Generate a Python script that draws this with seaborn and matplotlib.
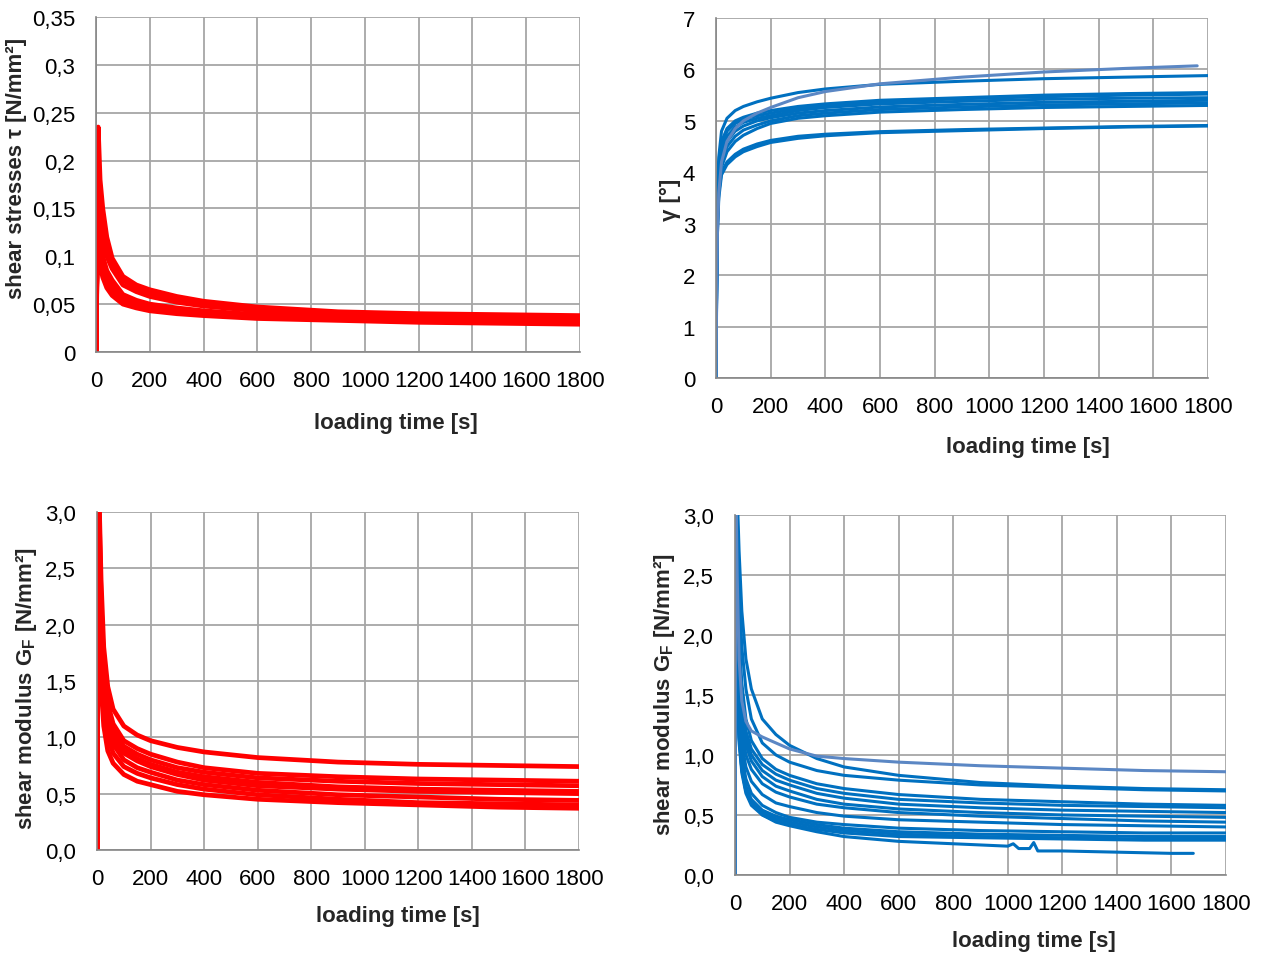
import numpy as np
import pandas as pd
import matplotlib
matplotlib.use("Agg")
import matplotlib.pyplot as plt
from matplotlib.ticker import FuncFormatter, MultipleLocator
import seaborn as sns

# ---------------- data ----------------
t_tau = [0, 3, 8, 15, 25, 40, 60, 100, 150, 200, 300, 400, 600, 900, 1200, 1500, 1800]
tau_1 = [0, 0.120, 0.235, 0.180, 0.150, 0.120, 0.098, 0.079, 0.070, 0.065, 0.058, 0.053, 0.047, 0.042, 0.040, 0.039, 0.038]
tau_2 = [0, 0.100, 0.160, 0.160, 0.135, 0.110, 0.093, 0.075, 0.067, 0.062, 0.055, 0.051, 0.045, 0.041, 0.039, 0.038, 0.037]
tau_3 = [0, 0.090, 0.140, 0.145, 0.120, 0.100, 0.087, 0.070, 0.063, 0.058, 0.052, 0.048, 0.043, 0.040, 0.038, 0.037, 0.036]
tau_4 = [0, 0.090, 0.130, 0.120, 0.100, 0.085, 0.075, 0.060, 0.054, 0.050, 0.046, 0.043, 0.039, 0.036, 0.035, 0.034, 0.033]
tau_5 = [0, 0.080, 0.120, 0.110, 0.092, 0.078, 0.068, 0.056, 0.051, 0.048, 0.044, 0.041, 0.038, 0.035, 0.034, 0.033, 0.032]
tau_6 = [0, 0.080, 0.110, 0.100, 0.085, 0.072, 0.063, 0.053, 0.048, 0.046, 0.042, 0.040, 0.036, 0.034, 0.033, 0.032, 0.031]
tau_7 = [0, 0.070, 0.100, 0.090, 0.078, 0.067, 0.059, 0.050, 0.046, 0.043, 0.040, 0.038, 0.035, 0.033, 0.031, 0.030, 0.029]
tau_8 = [0, 0.090, 0.125, 0.115, 0.095, 0.081, 0.071, 0.058, 0.052, 0.049, 0.045, 0.042, 0.038, 0.036, 0.034, 0.033, 0.032]

t_gam = [0, 2, 5, 10, 20, 40, 70, 100, 150, 200, 300, 400, 600, 900, 1200, 1500, 1800]
gam_1 = [0, 2.0, 3.5, 4.3, 4.80, 5.05, 5.20, 5.28, 5.37, 5.44, 5.55, 5.62, 5.71, 5.77, 5.82, 5.85, 5.88]
gam_2 = [0, 2.0, 3.4, 4.2, 4.60, 4.85, 5.00, 5.07, 5.15, 5.20, 5.28, 5.33, 5.40, 5.45, 5.50, 5.53, 5.55]
gam_3 = [0, 1.9, 3.3, 4.1, 4.50, 4.80, 4.95, 5.03, 5.10, 5.15, 5.24, 5.30, 5.37, 5.43, 5.47, 5.50, 5.52]
gam_4 = [0, 1.9, 3.2, 4.0, 4.40, 4.70, 4.88, 4.97, 5.05, 5.10, 5.20, 5.26, 5.33, 5.38, 5.42, 5.44, 5.45]
gam_5 = [0, 1.8, 3.1, 3.9, 4.30, 4.60, 4.80, 4.90, 5.00, 5.06, 5.15, 5.20, 5.27, 5.32, 5.36, 5.38, 5.40]
gam_6 = [0, 1.8, 3.0, 3.8, 4.20, 4.50, 4.70, 4.82, 4.92, 5.00, 5.10, 5.15, 5.22, 5.27, 5.31, 5.33, 5.35]
gam_7 = [0, 1.7, 3.0, 3.7, 4.10, 4.40, 4.60, 4.72, 4.85, 4.95, 5.05, 5.10, 5.17, 5.22, 5.26, 5.28, 5.30]
gam_8 = [0, 1.7, 2.9, 3.6, 4.00, 4.20, 4.35, 4.45, 4.55, 4.62, 4.70, 4.74, 4.79, 4.83, 4.86, 4.89, 4.91]
gam_9 = [0, 1.6, 2.8, 3.5, 3.95, 4.15, 4.30, 4.40, 4.50, 4.58, 4.66, 4.71, 4.77, 4.81, 4.85, 4.88, 4.90]
t_gam_light = [0, 2, 5, 10, 20, 40, 70, 100, 150, 200, 300, 400, 600, 900, 1200, 1500, 1760]
gam_light = [0, 1.5, 2.8, 3.6, 4.20, 4.60, 4.85, 5.00, 5.15, 5.26, 5.45, 5.57, 5.72, 5.85, 5.95, 6.02, 6.07]

t_gr = [0, 3, 8, 15, 25, 40, 60, 100, 150, 200, 300, 400, 600, 900, 1200, 1500, 1800]
gr_1 = [0, 3.3, 3.1, 2.40, 1.80, 1.45, 1.25, 1.10, 1.02, 0.97, 0.91, 0.87, 0.82, 0.78, 0.76, 0.75, 0.74]
gr_2 = [0, 3.3, 3.0, 2.20, 1.65, 1.30, 1.12, 0.97, 0.90, 0.85, 0.78, 0.73, 0.68, 0.65, 0.63, 0.62, 0.61]
gr_3 = [0, 3.3, 2.9, 2.10, 1.55, 1.25, 1.07, 0.92, 0.85, 0.80, 0.73, 0.69, 0.64, 0.61, 0.59, 0.58, 0.57]
gr_4 = [0, 3.2, 2.7, 1.95, 1.45, 1.17, 1.00, 0.86, 0.79, 0.74, 0.67, 0.62, 0.57, 0.54, 0.52, 0.51, 0.50]
gr_5 = [0, 3.2, 2.6, 1.85, 1.38, 1.10, 0.94, 0.80, 0.73, 0.69, 0.62, 0.58, 0.53, 0.49, 0.47, 0.45, 0.44]
gr_6 = [0, 3.1, 2.4, 1.70, 1.25, 1.00, 0.86, 0.74, 0.68, 0.64, 0.58, 0.54, 0.49, 0.45, 0.42, 0.41, 0.40]
gr_7 = [0, 3.0, 2.1, 1.45, 1.10, 0.88, 0.77, 0.67, 0.61, 0.58, 0.52, 0.49, 0.45, 0.42, 0.40, 0.38, 0.37]
gr_8 = [0, 3.2, 2.8, 2.00, 1.50, 1.20, 1.03, 0.88, 0.81, 0.76, 0.69, 0.65, 0.60, 0.56, 0.54, 0.53, 0.52]

t_gb = [0, 3, 8, 15, 25, 40, 60, 100, 150, 200, 300, 400, 600, 900, 1200, 1500, 1800]
gb_light = [0, 3.3, 2.5, 1.80, 1.45, 1.28, 1.20, 1.15, 1.10, 1.05, 0.99, 0.97, 0.94, 0.91, 0.89, 0.87, 0.86]
gb_1 = [0, 3.3, 3.2, 2.70, 2.20, 1.80, 1.55, 1.30, 1.17, 1.08, 0.97, 0.90, 0.83, 0.77, 0.74, 0.72, 0.71]
gb_2 = [0, 3.3, 3.0, 2.40, 1.90, 1.55, 1.30, 1.10, 1.00, 0.94, 0.87, 0.83, 0.79, 0.75, 0.73, 0.71, 0.70]
gb_3 = [0, 3.3, 2.7, 2.00, 1.60, 1.30, 1.12, 0.97, 0.88, 0.83, 0.76, 0.72, 0.67, 0.63, 0.61, 0.59, 0.58]
gb_4 = [0, 3.2, 2.5, 1.80, 1.45, 1.20, 1.05, 0.92, 0.84, 0.79, 0.72, 0.68, 0.63, 0.60, 0.58, 0.57, 0.56]
gb_5 = [0, 3.2, 2.4, 1.70, 1.38, 1.14, 1.00, 0.87, 0.79, 0.75, 0.68, 0.64, 0.59, 0.56, 0.54, 0.53, 0.52]
gb_6 = [0, 3.1, 2.3, 1.60, 1.30, 1.08, 0.95, 0.82, 0.74, 0.70, 0.63, 0.59, 0.55, 0.52, 0.50, 0.49, 0.48]
gb_7 = [0, 3.0, 2.2, 1.55, 1.22, 1.00, 0.88, 0.76, 0.69, 0.65, 0.59, 0.56, 0.52, 0.49, 0.47, 0.45, 0.44]
gb_8 = [0, 3.0, 2.0, 1.40, 1.10, 0.90, 0.78, 0.67, 0.60, 0.57, 0.52, 0.49, 0.46, 0.44, 0.42, 0.41, 0.40]
gb_9 = [0, 2.9, 1.9, 1.30, 1.00, 0.80, 0.68, 0.58, 0.52, 0.48, 0.44, 0.42, 0.39, 0.37, 0.36, 0.35, 0.35]
gb_10 = [0, 2.8, 1.8, 1.20, 0.92, 0.74, 0.63, 0.54, 0.49, 0.46, 0.42, 0.39, 0.36, 0.34, 0.33, 0.32, 0.32]
gb_11 = [0, 2.7, 1.7, 1.15, 0.88, 0.70, 0.60, 0.52, 0.47, 0.44, 0.40, 0.37, 0.34, 0.32, 0.31, 0.30, 0.30]
gb_12 = [0, 2.6, 1.6, 1.10, 0.85, 0.68, 0.58, 0.50, 0.45, 0.42, 0.38, 0.35, 0.32, 0.31, 0.30, 0.29, 0.29]
t_gb_short = [0, 3, 8, 15, 25, 40, 60, 100, 150, 200, 300, 400, 600, 900, 1000, 1020, 1040, 1080, 1095, 1110, 1200, 1400, 1600, 1680]
gb_short = [0, 2.8, 1.7, 1.15, 0.88, 0.70, 0.60, 0.50, 0.44, 0.41, 0.36, 0.32, 0.28, 0.25, 0.24, 0.26, 0.22, 0.22, 0.27, 0.20, 0.20, 0.19, 0.18, 0.18]

xticks = [0, 200, 400, 600, 800, 1000, 1200, 1400, 1600, 1800]
xlabel = "loading time [s]"

RED = "#FF0000"
BLUE = "#0070C0"
LIGHTBLUE = "#5B87C4"
GRID = "#A6A6A6"
AXIS = "#868686"

# ---------------- style ----------------
sns.set_theme(style="white")
plt.rcParams["font.family"] = ["Liberation Sans", "DejaVu Sans"]
plt.rcParams["mathtext.fontset"] = "custom"
plt.rcParams["mathtext.rm"] = "Liberation Sans"
plt.rcParams["mathtext.bf"] = "Liberation Sans:bold"


def long_df(t, curves):
    rows = []
    for i, c in enumerate(curves):
        for tt, v in zip(t, c):
            rows.append((i, tt, v))
    return pd.DataFrame(rows, columns=["curve", "t", "v"])


fig = plt.figure(figsize=(12.62, 9.54), dpi=100)
axA = fig.add_axes([0.0761, 0.630, 0.3835, 0.3512])
axB = fig.add_axes([0.5674, 0.6027, 0.3899, 0.3774])
axC = fig.add_axes([0.0769, 0.1080, 0.3819, 0.3543])
axD = fig.add_axes([0.5824, 0.0818, 0.3891, 0.3774])


def comma(fmt):
    return FuncFormatter(lambda v, p: (fmt.format(v)).replace(".", ","))


def tau_fmt(v, p):
    s = f"{v:.2f}".rstrip("0").rstrip(".")
    return s.replace(".", ",")


def style(ax, ymax, ystep, yfmt, ylabel, xl_xy, yl_xy):
    ax.set_xlim(0, 1800)
    ax.set_ylim(0, ymax)
    ax.set_xticks(xticks)
    ax.yaxis.set_major_locator(MultipleLocator(ystep))
    ax.yaxis.set_major_formatter(yfmt)
    ax.grid(True, color=GRID, linewidth=1.3)
    ax.set_axisbelow(True)
    for s in ["top", "right"]:
        ax.spines[s].set_visible(False)
    for s in ["left", "bottom"]:
        ax.spines[s].set_color(AXIS)
        ax.spines[s].set_linewidth(1.2)
    ax.tick_params(axis="both", which="major", direction="out", length=5,
                   width=1.2, color=AXIS, labelsize=16, labelcolor="black")
    ax.tick_params(axis="y", pad=10)
    ax.tick_params(axis="x", pad=8)
    ax.set_xlabel(xlabel, fontsize=16, fontweight="bold")
    ax.set_ylabel(ylabel, fontsize=16, fontweight="bold")
    ax.xaxis.set_label_coords(*xl_xy)
    ax.yaxis.set_label_coords(*yl_xy)


# Panel A: shear stresses
dA = long_df(t_tau, [tau_1, tau_2, tau_3, tau_4, tau_5, tau_6, tau_7, tau_8])
sns.lineplot(data=dA, x="t", y="v", units="curve", estimator=None, color=RED,
             linewidth=3.4, ax=axA, legend=False)
style(axA, 0.35, 0.05, FuncFormatter(tau_fmt), "shear stresses \u03c4 [N/mm\u00b2]",
      (0.62, -0.18), (-0.143, 0.552))

# Panel B: gamma
dB = long_df(t_gam, [gam_1, gam_2, gam_3, gam_4, gam_5, gam_6, gam_7, gam_8, gam_9])
sns.lineplot(data=dB, x="t", y="v", units="curve", estimator=None, color=BLUE,
             linewidth=2.2, ax=axB, legend=False)
sns.lineplot(x=t_gam_light, y=gam_light, color=LIGHTBLUE, linewidth=2.2, ax=axB,
             estimator=None, legend=False)
style(axB, 7, 1, FuncFormatter(lambda v, p: f"{v:.0f}"), "\u03b3 [\u00b0]",
      (0.634, -0.161), (-0.071, 0.497))

# Panel C: shear modulus (red)
dC = long_df(t_gr, [gr_1, gr_2, gr_3, gr_4, gr_5, gr_6, gr_7, gr_8])
sns.lineplot(data=dC, x="t", y="v", units="curve", estimator=None, color=RED,
             linewidth=3.4, ax=axC, legend=False)
style(axC, 3.0, 0.5, comma("{:.1f}"), r"shear modulus G$_\mathbf{F}$ [N/mm²]",
      (0.624, -0.163), (-0.120, 0.482))

# Panel D: shear modulus (blue)
dD = long_df(t_gb, [gb_1, gb_2, gb_3, gb_4, gb_5, gb_6, gb_7, gb_8, gb_9, gb_10, gb_11, gb_12])
sns.lineplot(data=dD, x="t", y="v", units="curve", estimator=None, color=BLUE,
             linewidth=2.2, ax=axD, legend=False)
sns.lineplot(x=t_gb_short, y=gb_short, color=BLUE, linewidth=2.2, ax=axD,
             estimator=None, legend=False)
sns.lineplot(x=t_gb, y=gb_light, color=LIGHTBLUE, linewidth=2.2, ax=axD,
             estimator=None, legend=False)
style(axD, 3.0, 0.5, comma("{:.1f}"), r"shear modulus G$_\mathbf{F}$ [N/mm²]",
      (0.609, -0.153), (-0.118, 0.503))

fig.savefig("out.png", dpi=100, facecolor="white")
